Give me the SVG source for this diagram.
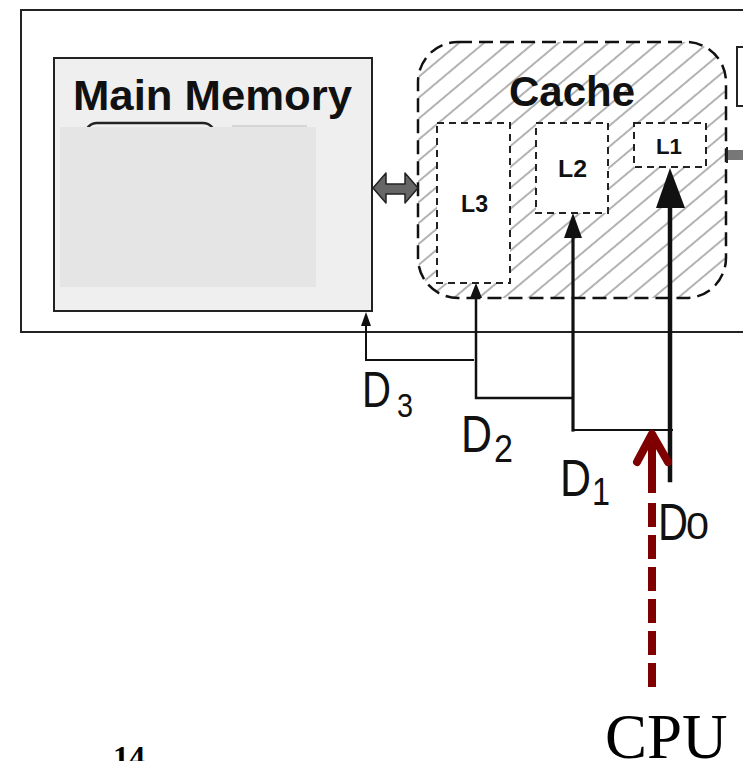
<svg xmlns="http://www.w3.org/2000/svg" width="743" height="761" viewBox="0 0 743 761">
<style>
.box{fill:none;stroke:#222;stroke-width:2}
.bold{font-family:"Liberation Sans",Arial,sans-serif;font-weight:bold;fill:#111}
.lbl{font-family:"Liberation Sans",Arial,sans-serif;fill:#111}
.lvl{fill:#fff;stroke:#222;stroke-width:2;stroke-dasharray:7 5}
.wire{fill:none;stroke:#111;stroke-linecap:square}
.head{fill:#111}
.cpu{stroke:#7f0000;stroke-width:8;fill:none}
</style>
<defs>
<pattern id="hatch" patternUnits="userSpaceOnUse" width="20" height="16" patternTransform="rotate(-40)">
<rect width="20" height="16" fill="#fff"/>
<line x1="0" y1="8" x2="20" y2="8" stroke="#666" stroke-width="1"/>
</pattern>
</defs>
<rect width="743" height="761" fill="#fff"/>
<g id="system">
<rect class="box" x="21" y="10" width="740" height="322"/>
</g>
<g id="main-memory">
<rect x="54" y="58" width="318" height="253" fill="#efefef" stroke="#222" stroke-width="2"/>
<text class="bold" x="73" y="110" font-size="43" textLength="279" lengthAdjust="spacingAndGlyphs">Main Memory</text>
<rect x="85" y="123" width="130" height="30" rx="12" fill="none" stroke="#222" stroke-width="2.5"/>
<rect x="232" y="125" width="75" height="20" fill="#d6d6d6"/>
<rect x="60" y="127" width="256" height="160" fill="#e5e5e5"/>
</g>
<g id="cache">
<rect x="418" y="42" width="308" height="256" rx="40" fill="url(#hatch)" stroke="#111" stroke-width="2.5" stroke-dasharray="14 7"/>
<text class="bold" x="509" y="106" font-size="42" textLength="126" lengthAdjust="spacingAndGlyphs">Cache</text>
</g>
<g id="L3">
<rect class="lvl" x="437" y="123" width="73" height="160"/>
<text class="bold" x="461" y="212" font-size="24" textLength="27" lengthAdjust="spacingAndGlyphs">L3</text>
</g>
<g id="L2">
<rect class="lvl" x="536" y="123" width="72" height="90"/>
<text class="bold" x="558" y="177" font-size="24" textLength="29" lengthAdjust="spacingAndGlyphs">L2</text>
</g>
<g id="L1">
<rect class="lvl" x="634" y="123" width="72" height="44"/>
<text class="bold" x="656" y="154" font-size="22" textLength="26" lengthAdjust="spacingAndGlyphs">L1</text>
</g>
<g id="right-block">
<rect x="737" y="47" width="20" height="59" fill="none" stroke="#222" stroke-width="2"/>
<rect x="727" y="150" width="20" height="10" fill="#777"/>
<line x1="727" y1="147" x2="727" y2="163" stroke="#222" stroke-width="2"/>
</g>
<g id="connectors">
<polygon points="373,188 386,173 386,184 405,184 405,173 418,188 405,203 405,194 386,194 386,203" fill="#666" stroke="#222" stroke-width="1.5" stroke-linejoin="round"/>
<polyline class="wire" stroke-width="2" points="473,360 366,360 366,322"/>
<polygon class="head" points="366,312 361,326 371,326"/>
<polyline class="wire" stroke-width="2.5" points="572,398 476,398 476,296"/>
<polygon class="head" points="476,283 470,298 482,298"/>
<polyline class="wire" stroke-width="2" points="672,430 573,430"/>
<line class="wire" stroke-width="3.2" x1="573" y1="430" x2="573" y2="234"/>
<polygon class="head" points="573,213 564,238 582,238"/>
<line class="wire" stroke-width="4.5" x1="670" y1="480" x2="670" y2="200"/>
<polygon class="head" points="670,168 656,208 685,208"/>
<line class="cpu" x1="652" y1="687" x2="652" y2="503" stroke-dasharray="24 8"/>
<line class="cpu" x1="652" y1="493" x2="652" y2="442"/>
<polyline class="cpu" points="637,462 652,434 668,462" stroke-linecap="round" stroke-linejoin="round"/>
</g>
<g id="labels">
<text class="lbl" x="362" y="407" font-size="50" textLength="29" lengthAdjust="spacingAndGlyphs">D</text>
<text class="lbl" x="397" y="417" font-size="34" textLength="16" lengthAdjust="spacingAndGlyphs">3</text>
<text class="lbl" x="461" y="452" font-size="52" textLength="31" lengthAdjust="spacingAndGlyphs">D</text>
<text class="lbl" x="494" y="462" font-size="38" textLength="19" lengthAdjust="spacingAndGlyphs">2</text>
<text class="lbl" x="560" y="496" font-size="52" textLength="31" lengthAdjust="spacingAndGlyphs">D</text>
<text class="lbl" x="592" y="505" font-size="38" textLength="18" lengthAdjust="spacingAndGlyphs">1</text>
<text class="lbl" x="658" y="540" font-size="52" textLength="30" lengthAdjust="spacingAndGlyphs">D</text>
<text class="lbl" x="686" y="539" font-size="36" textLength="23" lengthAdjust="spacingAndGlyphs">0</text>
<text x="605" y="758" font-family="'Liberation Serif','Times New Roman',serif" font-size="63" fill="#000">CPU</text>
<text x="113" y="768" font-family="'Liberation Serif','Times New Roman',serif" font-size="32" font-weight="bold" fill="#000">14</text>
</g>
</svg>
